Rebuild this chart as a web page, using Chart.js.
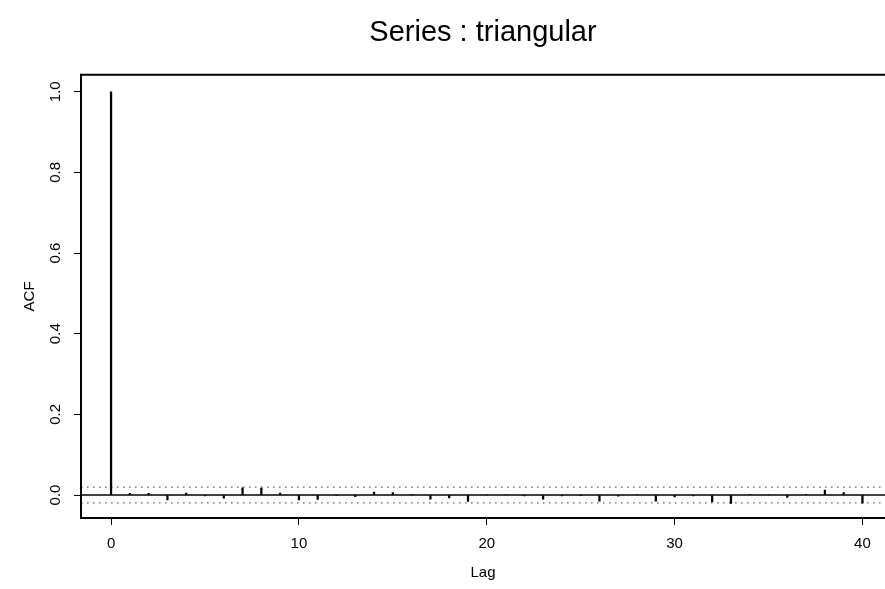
<!DOCTYPE html>
<html>
<head>
<meta charset="utf-8">
<title>Series : triangular</title>
<script src="https://cdn.jsdelivr.net/npm/chart.js@4/dist/chart.umd.min.js"></script>
<style>
  html, body { margin: 0; padding: 0; background: #fff; }
  #wrap { width: 885px; height: 589px; }
</style>
</head>
<body>
<div id="wrap"><canvas id="acf"></canvas></div>
<script>
// lags 0..40 and autocorrelation
var lags = [0, 1, 2, 3, 4, 5, 6, 7, 8, 9, 10,
    11, 12, 13, 14, 15, 16, 17, 18, 19, 20,
    21, 22, 23, 24, 25, 26, 27, 28, 29, 30,
    31, 32, 33, 34, 35, 36, 37, 38, 39, 40];
var acfValues = [1.0, 0.004, 0.004, -0.012, 0.005, -0.002, -0.008, 0.018, 0.017, 0.005, -0.012,
    -0.011, -0.001, -0.004, 0.007, 0.006, 0.002, -0.010, -0.007, -0.016, 0.000,
    0.000, -0.002, -0.010, -0.002, -0.001, -0.015, -0.003, 0.000, -0.015, -0.005,
    -0.002, -0.017, -0.021, 0.001, 0.000, -0.006, 0.001, 0.012, 0.006, -0.020];
var ciLimit = 0.0196;
var xTicks = [0, 10, 20, 30, 40];
var yTicks = [0.0, 0.2, 0.4, 0.6, 0.8, 1.0];
var xMin = -1.6, xMax = 41.2;
var yMin = -0.057, yMax = 1.042;

var fontFamily = '"Liberation Sans", Arial, Helvetica, sans-serif';

var framePlugin = {
    id: 'frame',
    afterDraw: function(chart) {
        var a = chart.chartArea;
        var ctx = chart.ctx;
        ctx.save();
        ctx.strokeStyle = '#000';
        ctx.lineWidth = 2;
        ctx.beginPath();
        ctx.moveTo(chart.width + 5, a.top);
        ctx.lineTo(a.left, a.top);
        ctx.lineTo(a.left, a.bottom);
        ctx.lineTo(chart.width + 5, a.bottom);
        ctx.stroke();
        ctx.restore();
    }
};

var acfPoints = lags.map(function(l, i) { return { x: l, y: acfValues[i] }; });

var hline = function(y, color, width, dash) {
    return {
        type: 'line',
        data: [{ x: xMin, y: y }, { x: xMax, y: y }],
        borderColor: color,
        borderWidth: width,
        borderDash: dash,
        pointRadius: 0,
        fill: false
    };
};

var ctx = document.getElementById('acf').getContext('2d');
var chart = new Chart(ctx, {
    type: 'bar',
    data: {
        datasets: [
            {
                data: acfPoints,
                backgroundColor: '#000',
                barThickness: 1.6
            },
            hline(0, '#000', 1.5, []),
            hline(ciLimit, '#2f64b8', 1.3, [1.5, 4.5]),
            hline(-ciLimit, '#2f64b8', 1.3, [1.5, 4.5])
        ]
    },
    plugins: [framePlugin],
    options: {
        responsive: true,
        maintainAspectRatio: false,
        animation: false,
        layout: { padding: 0 },
        plugins: {
            legend: { display: false },
            tooltip: { enabled: false },
            title: {
                display: true,
                text: 'Series : triangular',
                fullSize: false,
                color: '#000',
                font: { family: fontFamily, size: 29, weight: 'normal', lineHeight: 1.2 },
                padding: { top: 16, bottom: 24 }
            }
        },
        scales: {
            x: {
                type: 'linear',
                min: xMin,
                max: xMax,
                offset: false,
                afterBuildTicks: function(scale) {
                    scale.ticks = xTicks.map(function(v) { return { value: v }; });
                },
                afterFit: function(scale) { scale.height = 71; },
                grid: { offset: false, drawOnChartArea: false, drawTicks: true, tickLength: 7, tickColor: '#000', tickWidth: 1 },
                border: { display: false },
                ticks: { color: '#000', padding: 10, maxRotation: 0, font: { family: fontFamily, size: 15 } },
                title: {
                    display: true,
                    text: 'Lag',
                    color: '#000',
                    font: { family: fontFamily, size: 15 },
                    padding: { top: 0, bottom: 7 }
                }
            },
            y: {
                min: yMin,
                max: yMax,
                afterBuildTicks: function(scale) {
                    scale.ticks = yTicks.map(function(v) { return { value: v }; });
                },
                afterFit: function(scale) { scale.width = 81; },
                grid: { drawOnChartArea: false, drawTicks: true, tickLength: 7, tickColor: '#000', tickWidth: 1 },
                border: { display: false },
                ticks: {
                    color: '#000',
                    padding: 8,
                    minRotation: 90,
                    maxRotation: 90,
                    crossAlign: 'center',
                    font: { family: fontFamily, size: 15 },
                    callback: function(v) { return v.toFixed(1); }
                },
                title: {
                    display: true,
                    text: 'ACF',
                    color: '#000',
                    font: { family: fontFamily, size: 15 },
                    padding: { top: 21, bottom: 0 }
                }
            }
        }
    }
});
</script>
</body>
</html>
